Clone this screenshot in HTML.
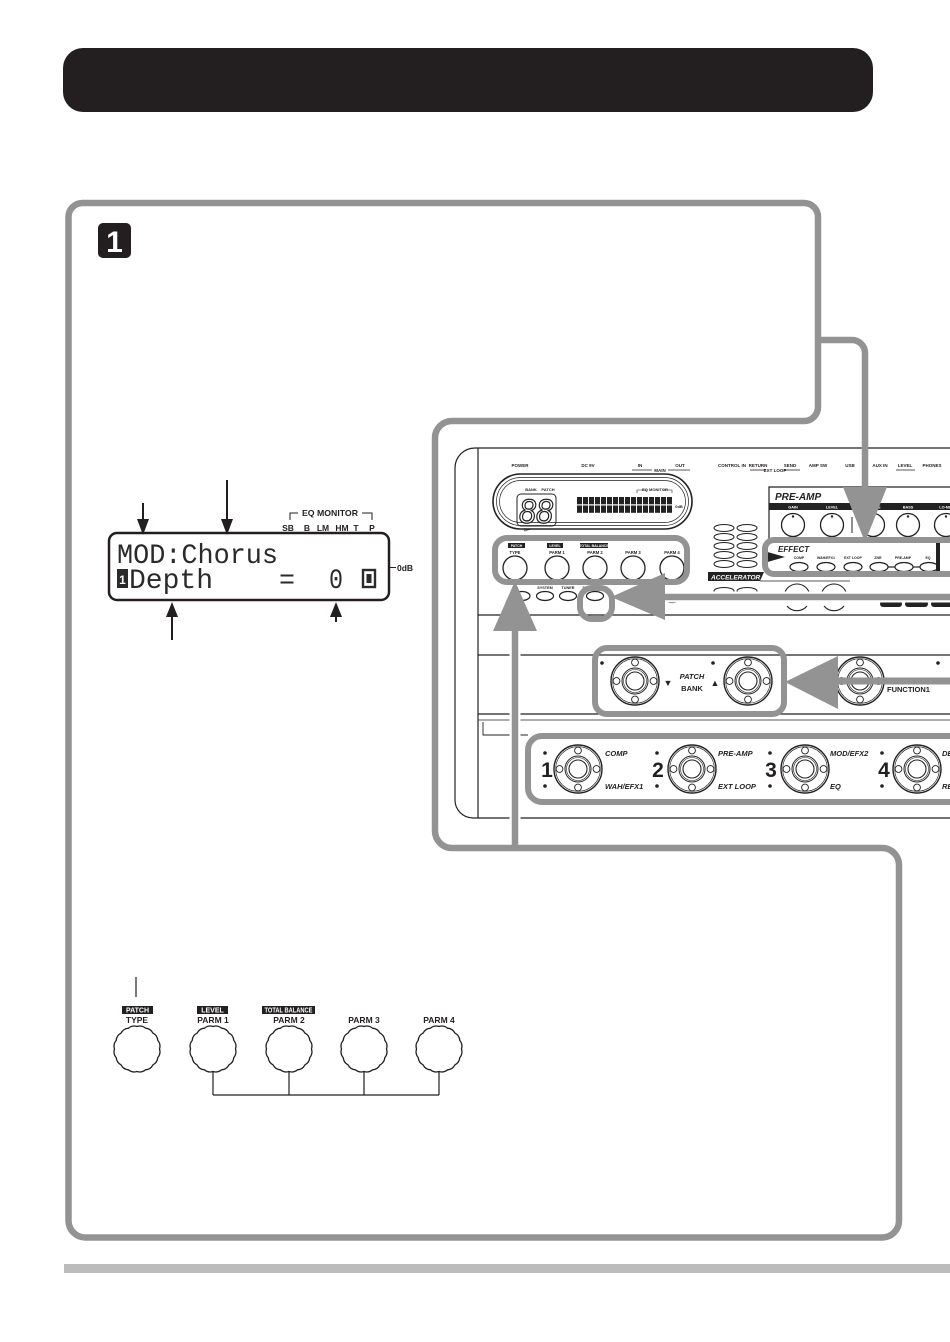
<!DOCTYPE html>
<html>
<head>
<meta charset="utf-8">
<style>
html,body{margin:0;padding:0;background:#fff;}
svg{display:block;}
text{font-family:"Liberation Sans Narrow","Liberation Sans",sans-serif;}
.mono{font-family:"Liberation Mono",monospace;}
.t{font-weight:bold;fill:#231f20;}
</style>
</head>
<body>
<svg width="950" height="1342" viewBox="0 0 950 1342" xmlns="http://www.w3.org/2000/svg">
<defs>
  <pattern id="lcd" x="577" y="497" width="6" height="8.5" patternUnits="userSpaceOnUse">
    <rect width="5" height="7.3" fill="#222"/>
  </pattern>
  <g id="fs">
    <circle r="24" fill="#fff" stroke="#222" stroke-width="1.4"/>
    <circle r="22.3" fill="none" stroke="#222" stroke-width="0.6"/>
    <circle r="13" fill="none" stroke="#222" stroke-width="1"/>
    <circle r="11.5" fill="none" stroke="#222" stroke-width="0.6"/>
    <circle r="9" fill="none" stroke="#222" stroke-width="1.1"/>
    <circle cx="0" cy="-18.5" r="3.4" fill="#fff" stroke="#222" stroke-width="0.9"/>
    <circle cx="0" cy="18.5" r="3.4" fill="#fff" stroke="#222" stroke-width="0.9"/>
    <circle cx="-18.5" cy="0" r="3.4" fill="#fff" stroke="#222" stroke-width="0.9"/>
    <circle cx="18.5" cy="0" r="3.4" fill="#fff" stroke="#222" stroke-width="0.9"/>
  </g>
  <path id="scal" fill="#fff" stroke="#231f20" stroke-width="1.3" d="M22.5,0 A9,9 0 0 1 20.79,8.61 A9,9 0 0 1 15.91,15.91 A9,9 0 0 1 8.61,20.79 A9,9 0 0 1 0,22.5 A9,9 0 0 1 -8.61,20.79 A9,9 0 0 1 -15.91,15.91 A9,9 0 0 1 -20.79,8.61 A9,9 0 0 1 -22.5,0 A9,9 0 0 1 -20.79,-8.61 A9,9 0 0 1 -15.91,-15.91 A9,9 0 0 1 -8.61,-20.79 A9,9 0 0 1 0,-22.5 A9,9 0 0 1 8.61,-20.79 A9,9 0 0 1 15.91,-15.91 A9,9 0 0 1 20.79,-8.61 A9,9 0 0 1 22.5,0 Z"/>
</defs>

<!-- Header bar -->
<rect x="63" y="48" width="810" height="64" rx="20" fill="#231f20"/>

<!-- Step badge -->
<rect x="98" y="223" width="33" height="35" rx="5" fill="#231f20"/>
<text x="114.5" y="252" text-anchor="middle" font-size="30" font-weight="bold" fill="#fff" style="font-family:'Liberation Sans',sans-serif">1</text>

<!-- ================= DEVICE ILLUSTRATION ================= -->
<g fill="none" stroke="#222" stroke-width="1.2">
  <path d="M950,448 L475,448 A20,20 0 0 0 455,468 L455,800 A18,18 0 0 0 473,818 L950,818"/>
  <path d="M478,448 L478,818"/>
  <path d="M478,615 L950,615"/>
  <path d="M478,655 L950,655"/>
  <path d="M478,714 L950,714"/>
  <path d="M478,720 L950,720" stroke-width="0.8"/>
  <path d="M483,722 L483,735 L528,735" stroke-width="0.9"/>
</g>

<!-- top labels row -->
<g class="t" font-size="4.5" text-anchor="middle">
  <text x="520" y="467">POWER</text>
  <text x="588" y="467">DC 9V</text>
  <text x="640" y="467">IN</text>
  <text x="680" y="467">OUT</text>
  <text x="660" y="472">MAIN</text>
  <text x="732" y="467">CONTROL IN</text>
  <text x="758" y="467">RETURN</text>
  <text x="775" y="472">EXT LOOP</text>
  <text x="790" y="467">SEND</text>
  <text x="818" y="467">AMP SW</text>
  <text x="850" y="467">USB</text>
  <text x="880" y="467">AUX IN</text>
  <text x="905" y="467">LEVEL</text>
  <text x="932" y="467">PHONES</text>
</g>
<g stroke="#222" stroke-width="0.8">
  <line x1="632" y1="470" x2="652" y2="470"/>
  <line x1="668" y1="470" x2="690" y2="470"/>
  <line x1="750" y1="470" x2="766" y2="470"/>
  <line x1="784" y1="470" x2="800" y2="470"/>
  <line x1="896" y1="470" x2="915" y2="470"/>
</g>

<!-- display pill -->
<rect x="493" y="474" width="199" height="55" rx="27.5" fill="none" stroke="#222" stroke-width="1.6"/>
<rect x="496.5" y="477.5" width="192" height="48" rx="24" fill="none" stroke="#222" stroke-width="0.7"/>
<rect x="499.5" y="480.5" width="186" height="42" rx="21" fill="none" stroke="#222" stroke-width="0.7"/>
<g class="t" font-size="4" text-anchor="middle">
  <text x="531" y="491">BANK</text>
  <text x="548" y="491">PATCH</text>
  <text x="655" y="491">EQ MONITOR</text>
  <text x="679" y="508">0dB</text>
  <text x="527" y="531">⊡↵</text>
</g>
<rect x="517" y="494" width="39" height="32" rx="4" fill="none" stroke="#222" stroke-width="1"/>
<text x="519" y="523" font-size="34" font-style="italic" fill="#fff" stroke="#222" stroke-width="1.3" textLength="34" lengthAdjust="spacingAndGlyphs" style="font-family:'Liberation Sans',sans-serif">88</text>
<rect x="577" y="497" width="95" height="16.5" fill="url(#lcd)"/>
<path d="M637,493 L637,490 L647,490 M663,490 L672,490 L672,493" stroke="#222" stroke-width="0.6" fill="none"/>

<!-- param knob row -->
<rect x="508" y="543" width="17" height="5" fill="#222"/>
<rect x="547" y="543" width="16" height="5" fill="#222"/>
<rect x="580" y="543" width="28" height="5" fill="#222"/>
<g font-size="3.5" font-weight="bold" fill="#fff" text-anchor="middle">
  <text x="516.5" y="547">PATCH</text>
  <text x="555" y="547">LEVEL</text>
  <text x="594" y="547">TOTAL BALANCE</text>
</g>
<g class="t" font-size="4.2" text-anchor="middle">
  <text x="515" y="554">TYPE</text>
  <text x="557" y="554">PARM 1</text>
  <text x="595" y="554">PARM 2</text>
  <text x="633" y="554">PARM 3</text>
  <text x="672" y="554">PARM 4</text>
</g>
<g fill="none" stroke="#222" stroke-width="1.3">
  <circle cx="515" cy="568" r="12"/>
  <circle cx="557" cy="568" r="12"/>
  <circle cx="595" cy="568" r="12"/>
  <circle cx="633" cy="568" r="12"/>
  <circle cx="672" cy="568" r="12"/>
</g>

<!-- small buttons -->
<g class="t" font-size="3.8" text-anchor="middle">
  <text x="545" y="589">SYSTEM</text>
  <text x="568" y="584">REPEAT</text>
  <text x="568" y="589">TUNER</text>
  <text x="595" y="589">STORE/SWAP</text>
</g>
<g fill="none" stroke="#222" stroke-width="1.2">
  <ellipse cx="522" cy="596" rx="8" ry="4.5"/>
  <ellipse cx="545" cy="596" rx="8.5" ry="4.5"/>
  <ellipse cx="568" cy="596" rx="8.5" ry="4.5"/>
  <ellipse cx="595" cy="596" rx="8.5" ry="4.5"/>
  <ellipse cx="672" cy="598" rx="9" ry="4.5"/>
</g>

<!-- oval grid -->
<g fill="none" stroke="#222" stroke-width="1">
  <ellipse cx="724" cy="528" rx="10" ry="3.5"/><ellipse cx="747" cy="528" rx="10" ry="3.5"/>
  <ellipse cx="724" cy="537" rx="10" ry="3.5"/><ellipse cx="747" cy="537" rx="10" ry="3.5"/>
  <ellipse cx="724" cy="546" rx="10" ry="3.5"/><ellipse cx="747" cy="546" rx="10" ry="3.5"/>
  <ellipse cx="724" cy="555" rx="10" ry="3.5"/><ellipse cx="747" cy="555" rx="10" ry="3.5"/>
  <ellipse cx="724" cy="564" rx="10" ry="3.5"/><ellipse cx="747" cy="564" rx="10" ry="3.5"/>
  <ellipse cx="724" cy="591" rx="10" ry="3.5"/><ellipse cx="747" cy="591" rx="10" ry="3.5"/>
</g>

<!-- accelerator -->
<polygon points="708,572 764,572 760,581 708,581" fill="#222"/>
<text x="711" y="579.5" font-size="6.5" font-weight="bold" font-style="italic" fill="#fff">ACCELERATOR</text>
<line x1="760" y1="581" x2="850" y2="581" stroke="#222" stroke-width="0.8"/>
<g fill="none" stroke="#222" stroke-width="1.1">
  <path d="M785,592 A13,13 0 0 1 809,592"/>
  <path d="M787,606 A13,13 0 0 0 807,606"/>
  <path d="M822,592 A13,13 0 0 1 846,592"/>
  <path d="M824,606 A13,13 0 0 0 844,606"/>
</g>
<g fill="#222">
  <rect x="880" y="601" width="22" height="6" rx="3"/>
  <rect x="905" y="601" width="23" height="6" rx="3"/>
  <rect x="931" y="601" width="22" height="6" rx="3"/>
</g>

<!-- pre-amp panel -->
<path d="M955,487 L769,487 L769,540" fill="none" stroke="#222" stroke-width="1.2"/>
<text x="775" y="500" font-size="10" font-weight="bold" font-style="italic" fill="#222" style="font-family:'Liberation Sans',sans-serif">PRE-AMP</text>
<rect x="769" y="503" width="186" height="7" fill="#222"/>
<g font-size="3.8" font-weight="bold" fill="#fff" text-anchor="middle">
  <text x="793" y="508.5">GAIN</text>
  <text x="832" y="508.5">LEVEL</text>
  <text x="873" y="508.5">TREBLE</text>
  <text x="908" y="508.5">BASS</text>
  <text x="946" y="508.5">LO-MID</text>
</g>
<g fill="none" stroke="#222" stroke-width="1.3">
  <circle cx="793" cy="525" r="11.5"/>
  <circle cx="832" cy="525" r="11.5"/>
  <circle cx="873" cy="525" r="11.5"/>
  <circle cx="908" cy="525" r="11.5"/>
  <circle cx="946" cy="525" r="11.5"/>
</g>
<g fill="#222">
  <circle cx="793" cy="516.5" r="1.2"/><circle cx="832" cy="516.5" r="1.2"/>
  <circle cx="873" cy="516.5" r="1.2"/><circle cx="908" cy="516.5" r="1.2"/><circle cx="946" cy="516.5" r="1.2"/>
</g>
<line x1="852" y1="517" x2="852" y2="533" stroke="#222" stroke-width="1"/>

<!-- effect row -->
<polygon points="764,551 785,557 764,563" fill="#222"/>
<text x="778" y="552" font-size="8" font-weight="bold" font-style="italic" fill="#222" style="font-family:'Liberation Sans',sans-serif">EFFECT</text>
<g class="t" font-size="3.5" text-anchor="middle">
  <text x="799" y="559">COMP</text>
  <text x="826" y="559">WAH/EFX1</text>
  <text x="853" y="559">EXT LOOP</text>
  <text x="878" y="559">ZNR</text>
  <text x="903" y="559">PRE-AMP</text>
  <text x="928" y="559">EQ</text>
</g>
<g fill="none" stroke="#222" stroke-width="1.2">
  <ellipse cx="799" cy="567" rx="9" ry="4.5"/>
  <ellipse cx="826" cy="567" rx="9" ry="4.5"/>
  <ellipse cx="853" cy="567" rx="9" ry="4.5"/>
  <ellipse cx="879" cy="567" rx="9" ry="4.5"/>
  <ellipse cx="904" cy="567" rx="9" ry="4.5"/>
  <ellipse cx="929" cy="567" rx="9" ry="4.5"/>
  <line x1="888" y1="567" x2="895" y2="567"/>
  <line x1="913" y1="567" x2="920" y2="567"/>
</g>
<rect x="936" y="541" width="4" height="33" fill="#222"/>

<!-- patch / bank footswitches -->
<use href="#fs" x="635" y="681"/>
<use href="#fs" x="748" y="681"/>
<use href="#fs" x="860" y="681"/>
<g fill="#222">
  <circle cx="602" cy="663" r="1.8"/>
  <circle cx="713" cy="663" r="1.8"/>
  <circle cx="938" cy="663" r="1.8"/>
</g>
<text x="668" y="686" font-size="9" text-anchor="middle" fill="#222">▼</text>
<text x="715" y="686" font-size="9" text-anchor="middle" fill="#222">▲</text>
<text x="692" y="679" font-size="7.5" text-anchor="middle" font-weight="bold" font-style="italic" fill="#222">PATCH</text>
<text x="692" y="691" font-size="7.5" text-anchor="middle" font-weight="bold" fill="#222">BANK</text>

<!-- bottom footswitches -->
<use href="#fs" x="578" y="769"/>
<use href="#fs" x="692" y="769"/>
<use href="#fs" x="805" y="769"/>
<use href="#fs" x="917" y="769"/>
<g font-size="21" font-weight="bold" fill="#231f20" text-anchor="middle" style="font-family:'Liberation Sans',sans-serif">
  <text x="547" y="777">1</text>
  <text x="658" y="777">2</text>
  <text x="771" y="777">3</text>
  <text x="884" y="777">4</text>
</g>
<g fill="#222">
  <circle cx="545" cy="753" r="1.8"/><circle cx="545" cy="786" r="1.8"/>
  <circle cx="657" cy="753" r="1.8"/><circle cx="657" cy="786" r="1.8"/>
  <circle cx="770" cy="753" r="1.8"/><circle cx="770" cy="786" r="1.8"/>
  <circle cx="882" cy="753" r="1.8"/><circle cx="882" cy="786" r="1.8"/>
</g>
<g font-size="7.5" font-weight="bold" font-style="italic" fill="#231f20">
  <text x="605" y="756">COMP</text>
  <text x="605" y="789">WAH/EFX1</text>
  <text x="718" y="756">PRE-AMP</text>
  <text x="718" y="789">EXT LOOP</text>
  <text x="830" y="756">MOD/EFX2</text>
  <text x="830" y="789">EQ</text>
  <text x="942" y="756">DE</text>
  <text x="942" y="789">RE</text>
</g>

<!-- ================= GREY HIGHLIGHTS / ARROWS ================= -->
<g fill="none" stroke="#939393" stroke-width="6">
  <rect x="765" y="540" width="220" height="34" rx="9"/>
  <rect x="495" y="538" width="192" height="44" rx="12"/>
  <rect x="580" y="588" width="32" height="31" rx="12"/>
  <rect x="595" y="648" width="189" height="66" rx="12"/>
  <rect x="528" y="736" width="440" height="66" rx="14"/>
</g>
<!-- store arrow -->
<line x1="660" y1="597" x2="950" y2="597" stroke="#fff" stroke-width="11"/>
<line x1="660" y1="597" x2="950" y2="597" stroke="#939393" stroke-width="6.5"/>
<polygon points="611,597 665,573 665,620" fill="#939393"/>
<!-- patch arrow -->
<line x1="830" y1="681" x2="950" y2="681" stroke="#939393" stroke-width="7"/>
<polygon points="785,682 838,656 838,709" fill="#939393"/>
<text x="887" y="692" font-size="7.5" font-weight="bold" fill="#222">FUNCTION1</text>
<!-- up arrow -->
<line x1="515" y1="625" x2="515" y2="848" stroke="#fff" stroke-width="11"/>
<line x1="515" y1="625" x2="515" y2="848" stroke="#939393" stroke-width="6.5"/>
<polygon points="515,581 493,631 537,631" fill="#939393"/>
<!-- top right arrow -->
<path d="M818,340 L852,340 A13,13 0 0 1 865,353 L865,492" fill="none" stroke="#939393" stroke-width="6.5"/>
<polygon points="843,487 887,487 865,542" fill="#939393"/>

<!-- main frame -->
<path d="M68.5,217 A14,14 0 0 1 82.5,203 L804,203 A14,14 0 0 1 818,217 L818,407 A14,14 0 0 1 804,421 L452,421 A17,17 0 0 0 435,438 L435,831 A17,17 0 0 0 452,848 L882,848 A17,17 0 0 1 899,865 L899,1220 A17,17 0 0 1 882,1237.5 L85,1237.5 A17,17 0 0 1 68.5,1220 Z" fill="none" stroke="#939393" stroke-width="6.5"/>

<!-- ================= LCD DIAGRAM ================= -->
<rect x="109" y="533" width="280" height="67" rx="8" fill="none" stroke="#231f20" stroke-width="2.5"/>
<text class="mono" x="117" y="563" font-size="28" fill="#2a2a2a" textLength="161" lengthAdjust="spacingAndGlyphs">MOD:Chorus</text>
<rect x="117" y="569" width="11" height="19" fill="#2a2a2a"/>
<text x="122.5" y="584" font-size="12" text-anchor="middle" fill="#fff" font-weight="bold" style="font-family:'Liberation Sans',sans-serif">1</text>
<text class="mono" x="129" y="588" font-size="28" fill="#2a2a2a" textLength="84" lengthAdjust="spacingAndGlyphs">Depth</text>
<text class="mono" x="279" y="588" font-size="28" fill="#2a2a2a" textLength="16" lengthAdjust="spacingAndGlyphs">=</text>
<text class="mono" x="329" y="588" font-size="28" fill="#2a2a2a" textLength="14" lengthAdjust="spacingAndGlyphs">0</text>
<rect x="363" y="570" width="12" height="17" fill="none" stroke="#2a2a2a" stroke-width="2.4"/>
<rect x="366.5" y="574" width="5" height="9" fill="#2a2a2a"/>

<text class="t" x="330" y="516" font-size="8.5" text-anchor="middle" textLength="56" lengthAdjust="spacingAndGlyphs">EQ MONITOR</text>
<path d="M290,520 L290,513 L298,513 M362,513 L372,513 L372,520" fill="none" stroke="#231f20" stroke-width="1"/>
<g class="t" font-size="8.5" text-anchor="middle">
  <text x="288" y="531">SB</text>
  <text x="307" y="531">B</text>
  <text x="323" y="531">LM</text>
  <text x="342" y="531">HM</text>
  <text x="356" y="531">T</text>
  <text x="372" y="531">P</text>
</g>
<line x1="390" y1="567.5" x2="396" y2="567.5" stroke="#231f20" stroke-width="1"/>
<text class="t" x="397" y="571" font-size="8.5">0dB</text>

<!-- LCD arrows -->
<g stroke="#231f20" stroke-width="2">
  <line x1="143" y1="503" x2="143" y2="522"/>
  <line x1="227" y1="480" x2="227" y2="522"/>
  <line x1="172" y1="614" x2="172" y2="640"/>
  <line x1="336" y1="614" x2="336" y2="622"/>
</g>
<g fill="#231f20">
  <polygon points="137,519 149,519 143,535"/>
  <polygon points="221,519 233,519 227,535"/>
  <polygon points="166,617 178,617 172,602"/>
  <polygon points="330,617 342,617 336,602"/>
</g>

<!-- ================= KNOB LEGEND ================= -->
<line x1="136" y1="977" x2="136" y2="997" stroke="#231f20" stroke-width="1.2"/>
<rect x="122" y="1006" width="31" height="8" fill="#231f20"/>
<rect x="197" y="1006" width="31" height="8" fill="#231f20"/>
<rect x="262" y="1006" width="53" height="8" fill="#231f20"/>
<g font-size="7" font-weight="bold" fill="#fff" text-anchor="middle">
  <text x="137.5" y="1012.5">PATCH</text>
  <text x="212.5" y="1012.5">LEVEL</text>
  <text x="288.5" y="1012.5" textLength="48" lengthAdjust="spacingAndGlyphs">TOTAL BALANCE</text>
</g>
<g stroke="#231f20" stroke-width="1.2" fill="none">
  <path d="M213,1070 V1095 M289,1070 V1095 M364,1070 V1095 M439,1070 V1095 M213,1095 H439"/>
</g>
<use href="#scal" x="137" y="1049"/>
<use href="#scal" x="213" y="1049"/>
<use href="#scal" x="289" y="1049"/>
<use href="#scal" x="364" y="1049"/>
<use href="#scal" x="439" y="1049"/>
<g class="t" font-size="8.5" text-anchor="middle">
  <text x="137" y="1023">TYPE</text>
  <text x="213" y="1023">PARM 1</text>
  <text x="289" y="1023">PARM 2</text>
  <text x="364" y="1023">PARM 3</text>
  <text x="439" y="1023">PARM 4</text>
</g>

<!-- bottom grey bar -->
<rect x="64" y="1264" width="886" height="9" fill="#bcbcbc"/>
</svg>
</body>
</html>
